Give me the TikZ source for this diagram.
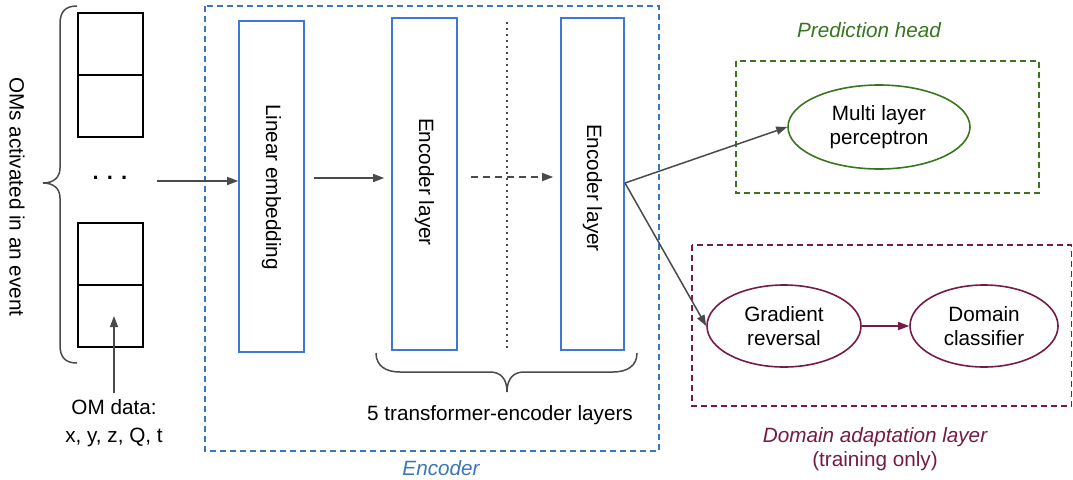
\documentclass[tikz,border=0pt]{standalone}
\usepackage{fontspec}
\setmainfont{Liberation Sans}
\usetikzlibrary{arrows.meta,shapes.geometric}
\definecolor{encblue}{HTML}{3C78D8}
\definecolor{dashblue}{HTML}{3A76B8}
\definecolor{pgreen}{HTML}{38761D}
\definecolor{dmag}{HTML}{741B47}
\definecolor{arr}{HTML}{4A4A4A}
\begin{document}
\begin{tikzpicture}[x=1pt,y=-1pt,
  font=\fontsize{20.7}{24.5}\selectfont,
  layerbox/.style={draw=encblue, line width=1.6pt, minimum width=65pt, inner sep=0pt},
  ombox/.style={draw=black, line width=1.8pt, minimum width=65pt, minimum height=62pt, inner sep=0pt},
  dbox/.style={line width=1.5pt, dash pattern=on 6pt off 4pt},
  oval/.style={ellipse, line width=1.6pt, align=center, inner sep=0pt},
  conn/.style={-{Triangle[length=11pt,width=8pt]}, draw=arr, line width=1.5pt},
  brc/.style={draw=arr, line width=1.5pt},
  lbl/.style={align=center, inner sep=0pt}
]
\useasboundingbox (0,0) rectangle (1073,479);

% OM boxes
\node[ombox] (a1) at (110.5,44) {};
\node[ombox] (a2) at (110.5,106) {};
\node[ombox] (b1) at (110.5,254) {};
\node[ombox] (b2) at (110.5,316) {};
\node[lbl, font=\fontsize{22}{24}\selectfont\bfseries] (dots) at (110,178) {. . .};
\node[lbl, rotate=-90] (omsact) at (17,197) {OMs activated in an event};
\node[lbl, font=\fontsize{20.7}{28}\selectfont] (omdata) at (114,423) {OM data:\\x, y, z, Q, t};

% left brace
\draw[brc] (77,6) .. controls (65,6) and (60,12) .. (60,24) -- (60,168)
  .. controls (60,178) and (53,183) .. (43,183)
  .. controls (53,183) and (60,188) .. (60,198) -- (60,345)
  .. controls (60,357) and (65,363) .. (77,363);

% encoder
\draw[dbox, draw=dashblue] (205,6) rectangle (659,451);
\node[layerbox, minimum height=331pt] (lin) at (271.5,186.5) {};
\node[rotate=-90, lbl] (lintxt) at (271.5,187) {Linear embedding};
\node[layerbox, minimum height=332pt] (enc1) at (424.5,184) {};
\node[rotate=-90, lbl] (enc1txt) at (424.5,182) {Encoder layer};
\node[layerbox, minimum height=332pt, minimum width=63pt] (enc2) at (592.5,184) {};
\node[rotate=-90, lbl] (enc2txt) at (592.5,188) {Encoder layer};
\draw[arr, line width=1.5pt, dash pattern=on 1.5pt off 4.5pt] (507,22) -- (507,350);

% bottom brace
\draw[brc] (376,353) .. controls (376,366) and (386,372) .. (400,372) -- (490,372)
  .. controls (500,372) and (507,378) .. (507,392)
  .. controls (507,378) and (514,372) .. (524,372) -- (613,372)
  .. controls (627,372) and (637,366) .. (637,353);
\node[lbl] (fivetxt) at (500,415) {5 transformer-encoder layers};
\node[lbl, text=dashblue, font=\fontsize{20.7}{24.5}\selectfont\itshape] (enclbl) at (441,468) {Encoder};

% prediction head
\draw[dbox, draw=pgreen] (736,61) rectangle (1039,193);
\node[lbl, text=pgreen, font=\fontsize{20.7}{24.5}\selectfont\itshape] (predlbl) at (869,30) {Prediction head};
\node[oval, draw=pgreen, minimum width=182pt, minimum height=84pt] (mlp) at (879,127) {Multi layer\\perceptron};

% domain adaptation
\draw[dbox, draw=dmag] (692,245) rectangle (1071.5,406);
\node[oval, draw=dmag, minimum width=154pt, minimum height=82pt] (gr) at (784,326) {Gradient\\reversal};
\node[oval, draw=dmag, minimum width=148pt, minimum height=82pt] (dc) at (984,326) {Domain\\classifier};
\node[lbl, text=dmag] (dalbl) at (875,449) {{\itshape Domain adaptation layer}\\(training only)};

% connectors
\coordinate (inarr) at (157,181);
\draw[conn] (inarr) -- (lin.west |- inarr);
\draw[conn, shorten <=9pt, shorten >=7pt] (lin.east |- 0,178) -- (enc1.west |- 0,178);
\draw[conn, dash pattern=on 7pt off 5pt, shorten <=13pt, shorten >=7pt] (enc1.east |- 0,177) -- (enc2.west |- 0,177);
\coordinate (split) at (625,183);
\draw[conn] (split) -- (mlp.west);
\draw[conn] (split) -- (gr.west);
\draw[conn, draw=dmag, shorten <=0pt] (gr.east) -- (dc.west);
\draw[conn, shorten <=6pt] (omdata.north) -- (omdata.north |- b2.center);
\end{tikzpicture}
\end{document}
